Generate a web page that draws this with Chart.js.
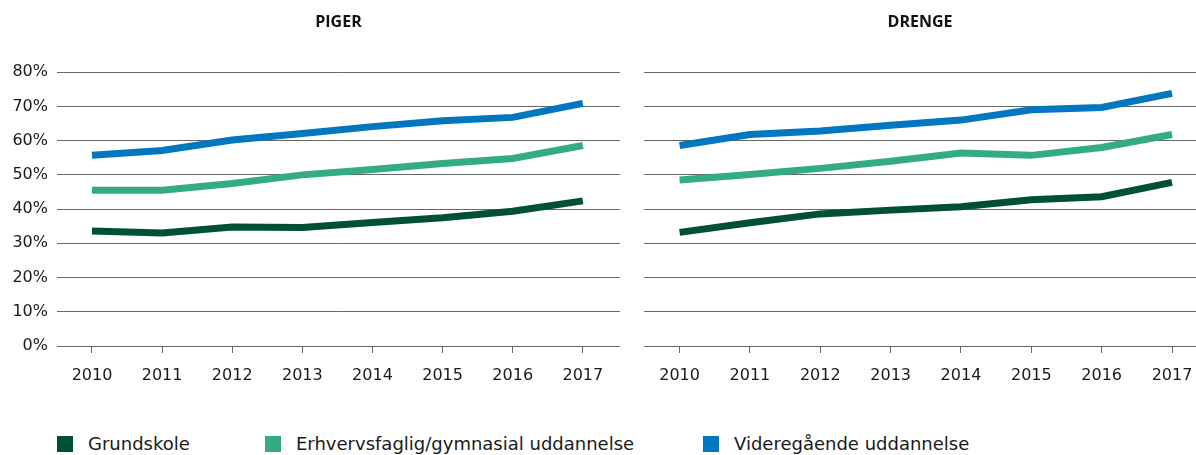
<!DOCTYPE html>
<html>
<head>
<meta charset="utf-8">
<script src="https://cdn.jsdelivr.net/npm/chart.js@4"></script>
<style>
  body { margin: 0; background: #fff; width: 1196px; height: 455px; position: relative; overflow: hidden; font-family: "DejaVu Sans", sans-serif; }
  .box { position: absolute; top: 0; height: 400px; }
  #legend { position: absolute; top: 433px; left: 0; width: 1196px; height: 22px; }
  .item { position: absolute; top: 0; font-size: 18px; color: #1a1a1a; line-height: 22px; }
  .item span { display: inline-block; width: 16px; height: 16px; vertical-align: -2px; margin-right: 15px; }
</style>
</head>
<body>
<div class="box" style="left:0;width:620px"><canvas id="piger"></canvas></div>
<div class="box" style="left:620px;width:576px"><canvas id="drenge"></canvas></div>
<div id="legend"></div>

<script>
// årstal og tick-værdier
var years = [2010, 2011, 2012, 2013, 2014, 2015, 2016, 2017];
var yTicks = [0, 10, 20, 30, 40, 50, 60, 70, 80];
var seriesNames = ['Grundskole', 'Erhvervsfaglig/gymnasial uddannelse', 'Videregående uddannelse'];
var seriesColors = ['#004f38', '#33ad80', '#0077bf'];

// piger (%)
var pigerGrundskole = [33.6, 33.0, 34.8, 34.6, 36.1, 37.5, 39.4, 42.4];
var pigerErhverv = [45.5, 45.5, 47.5, 50.0, 51.6, 53.3, 54.8, 58.6];
var pigerVidere = [55.7, 57.1, 60.2, 62.1, 64.1, 65.8, 66.8, 70.9];

// drenge (%)
var drengeGrundskole = [33.2, 36.0, 38.6, 39.7, 40.7, 42.7, 43.6, 47.8];
var drengeErhverv = [48.5, 50.1, 51.9, 54.0, 56.4, 55.7, 58.0, 61.8];
var drengeVidere = [58.6, 61.8, 62.8, 64.5, 66.0, 69.0, 69.7, 73.8];

function toPoints(values) {
    return values.map(function (v, i) { return { x: years[i], y: v }; });
}

function makeChart(id, title, data, opts) {
    var ctx = document.getElementById(id).getContext('2d');
    return new Chart(ctx, {
        type: 'line',
        data: {
            datasets: data.map(function (values, i) {
                return {
                    label: seriesNames[i],
                    data: toPoints(values),
                    borderColor: seriesColors[i],
                    backgroundColor: seriesColors[i],
                    borderWidth: 7,
                    pointRadius: 0,
                    tension: 0,
                    order: 3 - i
                };
            })
        },
        options: {
            responsive: true,
            maintainAspectRatio: false,
            animation: false,
            layout: { padding: 0 },
            scales: {
                x: {
                    type: 'linear',
                    min: opts.xMin,
                    max: opts.xMax,
                    afterBuildTicks: function (scale) {
                        scale.ticks = years.map(function (v) { return { value: v }; });
                    },
                    afterFit: function (scale) {
                        scale.height = 54;
                        // ingen ekstra plads til sidste label
                        scale.paddingLeft = 0;
                        scale.paddingRight = 0;
                    },
                    grid: {
                        drawOnChartArea: false,
                        drawTicks: true,
                        tickLength: 7,
                        color: '#666',
                        lineWidth: 1
                    },
                    border: { display: false },
                    ticks: {
                        padding: 13,
                        color: '#1a1a1a',
                        font: { family: 'DejaVu Sans', size: 16 },
                        callback: function (v) { return String(v); },
                        maxRotation: 0
                    }
                },
                y: {
                    min: 0,
                    max: 80,
                    afterBuildTicks: function (scale) {
                        scale.ticks = yTicks.map(function (v) { return { value: v }; });
                    },
                    afterFit: function (scale) { scale.width = opts.yWidth; },
                    grid: {
                        drawTicks: false,
                        color: '#666',
                        lineWidth: 1
                    },
                    border: { display: false },
                    ticks: {
                        display: opts.showY,
                        padding: 9,
                        color: '#1a1a1a',
                        font: { family: 'DejaVu Sans', size: 16 },
                        callback: function (v) { return v + '%'; }
                    }
                }
            },
            plugins: {
                legend: { display: false },
                tooltip: { enabled: false },
                title: {
                    display: true,
                    fullSize: false,
                    text: title,
                    color: '#111',
                    font: { family: 'Open Sans', size: 16, weight: 'bold' },
                    padding: { top: 13, bottom: 40 }
                }
            }
        }
    });
}

makeChart('piger', 'PIGER', [pigerGrundskole, pigerErhverv, pigerVidere],
    { xMin: 2009.501, xMax: 2017.53, yWidth: 57, showY: true });
makeChart('drenge', 'DRENGE', [drengeGrundskole, drengeErhverv, drengeVidere],
    { xMin: 2009.494, xMax: 2017.341, yWidth: 24, showY: false });

// forklaring under graferne
var legendLeft = [57, 265, 703];
var legend = document.getElementById('legend');
seriesNames.forEach(function (name, i) {
    var item = document.createElement('div');
    item.className = 'item';
    item.style.left = legendLeft[i] + 'px';
    item.innerHTML = '<span style="background:' + seriesColors[i] + '"></span>' + name;
    legend.appendChild(item);
});
</script>
</body>
</html>
